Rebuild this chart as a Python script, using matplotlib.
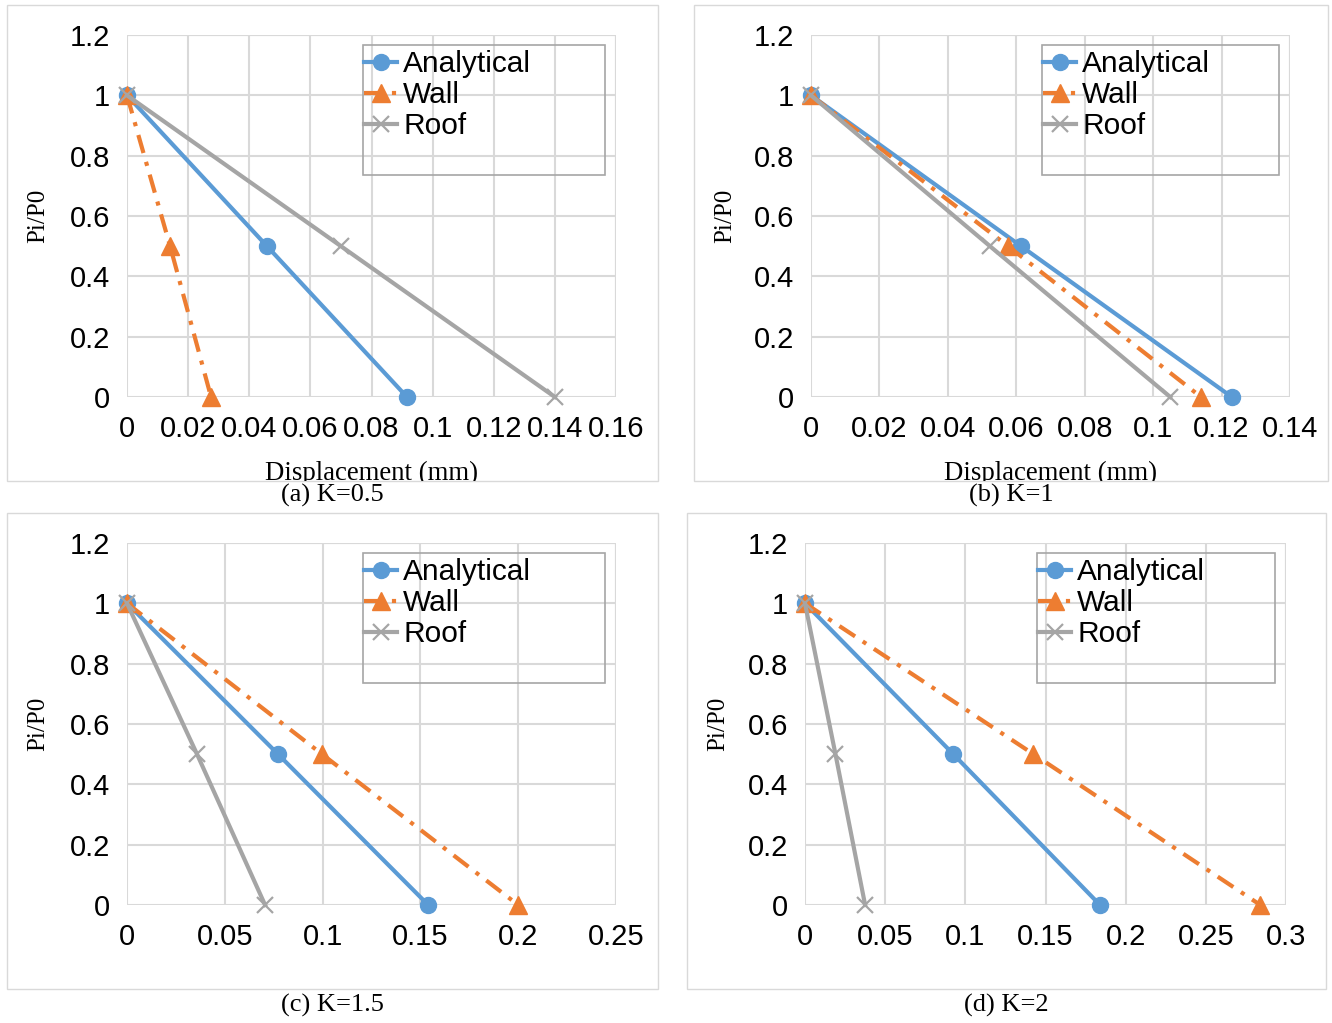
import matplotlib
matplotlib.use("Agg")
import matplotlib.pyplot as plt
from matplotlib.patches import Rectangle
from matplotlib.transforms import Bbox, TransformedBbox

# ---- data ---------------------------------------------------------------
pressure = [1.0, 0.5, 0.0]                       # Pi/P0

analytical_a = [0.0, 0.0458, 0.0916]
wall_a = [0.0, 0.0141, 0.0275]
roof_a = [0.0, 0.0700, 0.1400]

analytical_b = [0.0, 0.0614, 0.1230]
wall_b = [0.0, 0.0576, 0.1140]
roof_b = [0.0, 0.0523, 0.1050]

analytical_c = [0.0, 0.0772, 0.1540]
wall_c = [0.0, 0.0997, 0.2000]
roof_c = [0.0, 0.0358, 0.0706]

analytical_d = [0.0, 0.0925, 0.1840]
wall_d = [0.0, 0.1425, 0.2840]
roof_d = [0.0, 0.0190, 0.0375]

captions = ["(a) K=0.5", "(b) K=1", "(c) K=1.5", "(d) K=2"]
x_max = [0.16, 0.14, 0.25, 0.3]
x_step = [0.02, 0.02, 0.05, 0.05]
x_ticklabels = [
    ["0", "0.02", "0.04", "0.06", "0.08", "0.1", "0.12", "0.14", "0.16"],
    ["0", "0.02", "0.04", "0.06", "0.08", "0.1", "0.12", "0.14"],
    ["0", "0.05", "0.1", "0.15", "0.2", "0.25"],
    ["0", "0.05", "0.1", "0.15", "0.2", "0.25", "0.3"],
]
y_ticks = [0, 0.2, 0.4, 0.6, 0.8, 1.0, 1.2]
y_ticklabels = ["0", "0.2", "0.4", "0.6", "0.8", "1", "1.2"]

series = [
    (analytical_a, wall_a, roof_a),
    (analytical_b, wall_b, roof_b),
    (analytical_c, wall_c, roof_c),
    (analytical_d, wall_d, roof_d),
]

BLUE, ORANGE, GRAY = "#5B9BD5", "#ED7D31", "#A5A5A5"
GRID = "#D9D9D9"
SANS = "Liberation Sans"
SERIF = "Liberation Serif"
TICK_FS = 21

W, H = 1332, 1023
fig = plt.figure(figsize=(W / 100, H / 100), dpi=100)


def fx(px):
    return px / W


def fy(py):
    return 1 - py / H


# pixel layout: axes (left, right, top, bottom), outer frame (x0, y0, x1, y1)
axes_px = [(127, 616, 35, 397), (811, 1290, 35, 397),
           (127, 616, 543, 905), (805, 1286, 543, 905)]
frame_px = [(7, 5, 658, 481), (694, 5, 1328, 481),
            (7, 513, 658, 989), (687, 513, 1326, 989)]
ylabel_x = [38, 725, 38, 718]
caption_y = [495, 495, 1005, 1005]

for i in range(4):
    l, r, t, b = axes_px[i]
    ax = fig.add_axes([fx(l), fy(b), fx(r - l), (b - t) / H])
    an, wa, ro = series[i]

    ax.plot(an, pressure, "-o", color=BLUE, lw=3, ms=11.5, label="Analytical",
            zorder=3, clip_on=False)
    ax.plot(wa, pressure, color=ORANGE, lw=3, marker="^", ms=12.5,
            linestyle=(0, (4.5, 2.2, 1, 2.2)), label="Wall", zorder=3,
            clip_on=False)
    ax.plot(ro, pressure, color=GRAY, lw=3, marker="x", ms=11.5, mew=1.6,
            label="Roof", zorder=3, clip_on=False)

    n = len(x_ticklabels[i])
    xt = [k * x_step[i] for k in range(n)]
    ax.set_xlim(0, x_max[i])
    ax.set_ylim(0, 1.2)
    ax.set_xticks(xt)
    ax.set_xticklabels(x_ticklabels[i], fontsize=TICK_FS, family=SANS)
    ax.set_yticks(y_ticks)
    ax.set_yticklabels(y_ticklabels, fontsize=TICK_FS, family=SANS)
    ax.tick_params(length=0)
    ax.tick_params(axis="x", pad=13)
    ax.tick_params(axis="y", pad=12)
    ax.grid(True, color=GRID, lw=1.5)
    ax.set_axisbelow(True)
    for s in ax.spines.values():
        s.set_visible(False)
    # Excel draws the outer grid lines too
    ax.axvline(x_max[i], color=GRID, lw=1.5, zorder=0.5)
    ax.axhline(1.2, color=GRID, lw=1.5, zorder=0.5)

    # legend with oversized box like the original
    ax.add_patch(Rectangle((0.483, 0.613), 0.494, 0.359, transform=ax.transAxes,
                           fill=False, edgecolor="#A6A6A6", lw=1.2, zorder=4))
    ax.legend(loc="upper left", bbox_to_anchor=(0.479, 0.966),
              frameon=False, prop={"family": SANS, "size": 21.5},
              handlelength=1.1, handletextpad=0.2, labelspacing=0.1,
              borderaxespad=0, borderpad=0.1)

    # outer chart frame
    x0, y0, x1, y1 = frame_px[i]
    fig.patches.append(Rectangle((fx(x0), fy(y1)), fx(x1 - x0), (y1 - y0) / H,
                                 transform=fig.transFigure, fill=False,
                                 edgecolor="#D9D9D9", lw=1))

    fig.text(fx(ylabel_x[i]), fy((t + b) / 2), "Pi/P0", rotation=90,
             ha="center", va="center", fontsize=18, family=SERIF)

    # x label, cut off by the frame bottom as in the source
    xl = fig.text(fx((l + r) / 2), fy(473), "Displacement (mm)", ha="center",
                  va="center", fontsize=19.3, family=SERIF)
    xl.set_clip_box(TransformedBbox(Bbox([[fx(x0), fy(y1)], [fx(x1), fy(y0)]]),
                                    fig.transFigure))
    xl.set_clip_on(True)

    fig.text(fx((x0 + x1) / 2), fy(caption_y[i]), captions[i], ha="center",
             va="center", fontsize=19, family=SERIF)

fig.savefig("out.png", dpi=100)
